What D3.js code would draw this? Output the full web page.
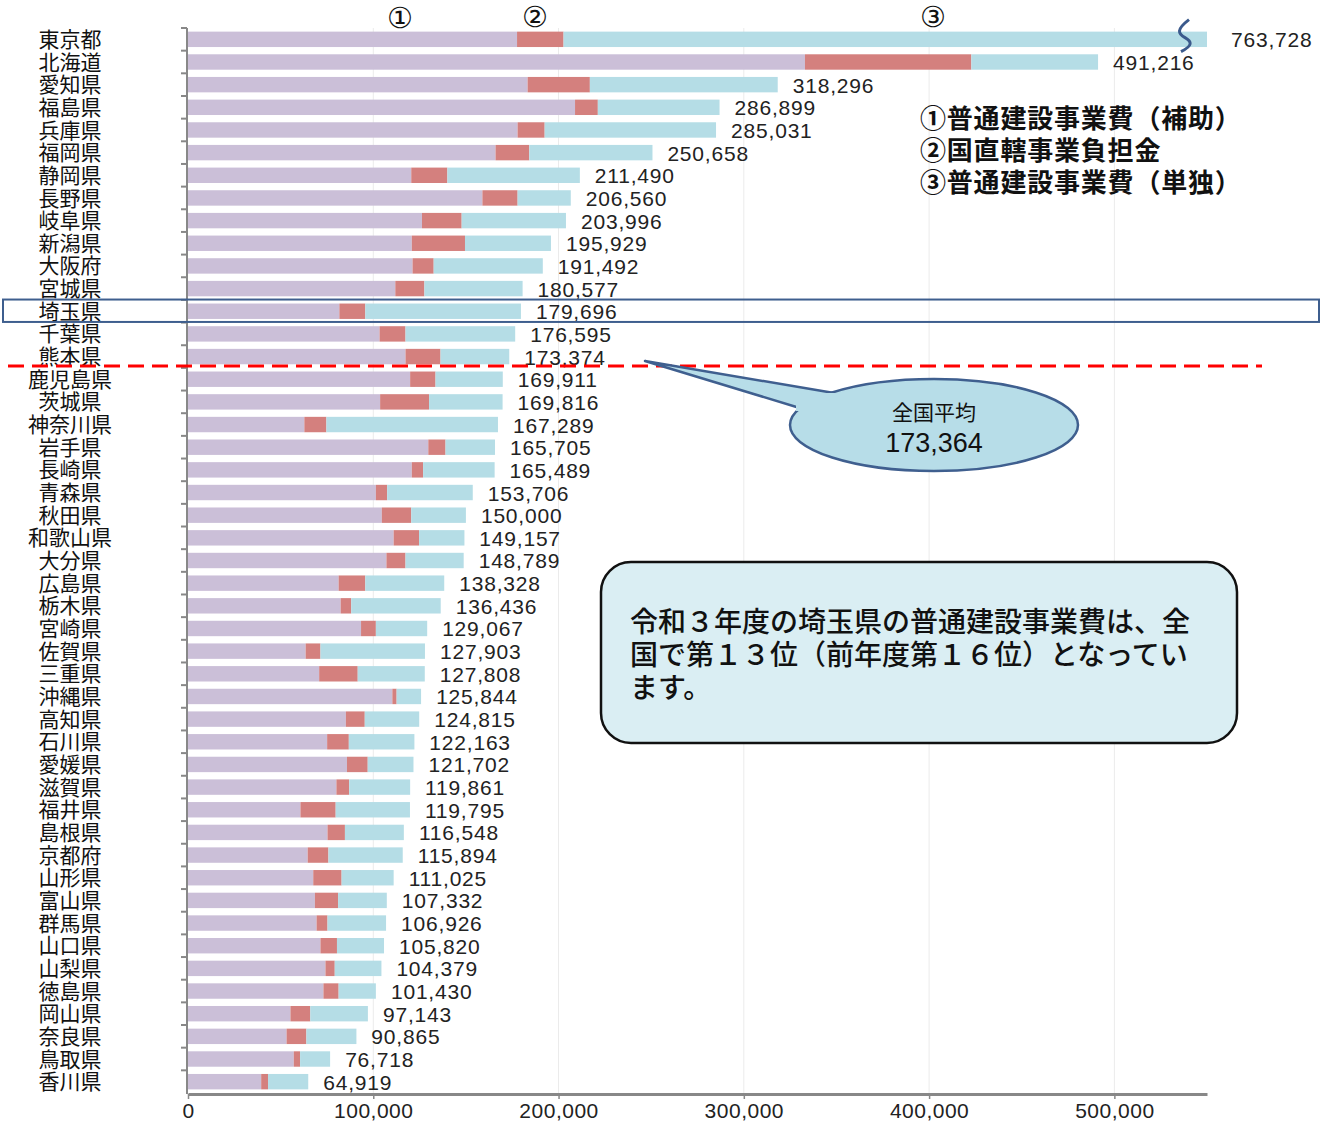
<!DOCTYPE html>
<html>
<head>
<meta charset="utf-8">
<script src="https://cdn.jsdelivr.net/npm/d3@7"></script>
<style>
  body { margin: 0; background: #fff; }
  .jp { font-family: 'Noto Sans CJK JP', sans-serif; }
  .num { font-family: 'Liberation Sans', Arial, sans-serif; }
</style>
</head>
<body>
<div class="chart"></div>
<script>
var prefs = ['東京都', '北海道', '愛知県', '福島県', '兵庫県', '福岡県', '静岡県', '長野県', '岐阜県', '新潟県',
  '大阪府', '宮城県', '埼玉県', '千葉県', '熊本県', '鹿児島県', '茨城県', '神奈川県', '岩手県', '長崎県',
  '青森県', '秋田県', '和歌山県', '大分県', '広島県', '栃木県', '宮崎県', '佐賀県', '三重県', '沖縄県',
  '高知県', '石川県', '愛媛県', '滋賀県', '福井県', '島根県', '京都府', '山形県', '富山県', '群馬県',
  '山口県', '山梨県', '徳島県', '岡山県', '奈良県', '鳥取県', '香川県']

// ① 普通建設事業費（補助）
var hojo = [177600, 333000, 183300, 208900, 177900, 166000, 120500, 158900, 126300, 120800,
  121200, 111900, 81700, 103400, 117400, 119900, 103700, 62800, 129700, 120800,
  101400, 104600, 111000, 107100, 81300, 82400, 93400, 63500, 70800, 110300,
  85200, 75100, 85800, 80100, 60700, 75300, 64600, 67600, 68500, 69400,
  71500, 74200, 73100, 55300, 53200, 57100, 39500]

// ② 国直轄事業負担金
var chokkatsu = [25100, 89800, 33600, 12300, 14600, 18200, 19500, 19000, 21400, 28700,
  11400, 15700, 14000, 14000, 18900, 13700, 26400, 11900, 9300, 6100,
  6100, 15900, 13700, 10300, 14400, 5700, 8000, 8000, 20800, 2300,
  10200, 11700, 11200, 6900, 19000, 9400, 11200, 15300, 12500, 5900,
  8900, 5000, 8200, 10700, 10700, 3400, 3700]

// ③ 普通建設事業費（単独）
var tandoku = [561000, 68400, 101400, 65700, 92500, 66500, 71500, 28700, 56300, 46400,
  58900, 53000, 84000, 59200, 37100, 36300, 39700, 92600, 26700, 38600,
  46200, 29500, 24500, 31400, 42600, 48300, 27700, 56400, 36200, 13200,
  29400, 35400, 24700, 32900, 40100, 31800, 40100, 28100, 26300, 31600,
  25400, 25200, 20100, 31100, 27000, 16200, 21700]

var totals = [763728, 491216, 318296, 286899, 285031, 250658, 211490, 206560, 203996, 195929,
  191492, 180577, 179696, 176595, 173374, 169911, 169816, 167289, 165705, 165489,
  153706, 150000, 149157, 148789, 138328, 136436, 129067, 127903, 127808, 125844,
  124815, 122163, 121702, 119861, 119795, 116548, 115894, 111025, 107332, 106926,
  105820, 104379, 101430, 97143, 90865, 76718, 64919]

var xTicks = [0, 100000, 200000, 300000, 400000, 500000]
var average = 173364
var seriesNames = ['①普通建設事業費（補助）', '②国直轄事業負担金', '③普通建設事業費（単独）']
var keys = ['hojo', 'chokkatsu', 'tandoku']
var colors = ['#cbbfd8', '#d4807e', '#b5dde6']

var rows = prefs.map(function (p, i) {
  return { name: p, hojo: hojo[i], chokkatsu: chokkatsu[i], tandoku: tandoku[i], total: totals[i] }
})

var svg = d3.select('.chart')
  .append('svg')
    .attr('width', 1333)
    .attr('height', 1122)

var x = d3.scaleLinear().domain([0, 550000]).range([188, 1207]).clamp(true)
var y = d3.scaleBand().domain(prefs).range([28, 1093]).paddingInner(0.32).paddingOuter(0.16)

// gridlines
svg.append('g')
  .selectAll('line')
  .data(xTicks.slice(1))
  .enter()
    .append('line')
    .attr('x1', d => x(d)).attr('x2', d => x(d))
    .attr('y1', 28).attr('y2', 1093)
    .style('stroke', '#ebebeb')
    .style('stroke-width', 1)

// stacked bars
var stacked = d3.stack().keys(keys)(rows)

svg.append('g')
  .selectAll('g')
  .data(stacked)
  .enter()
    .append('g')
    .style('fill', (d, i) => colors[i])
  .selectAll('rect')
  .data(d => d)
  .enter()
    .append('rect')
    .attr('x', d => x(d[0]))
    .attr('y', d => y(d.data.name))
    .attr('width', d => x(d[1]) - x(d[0]))
    .attr('height', y.bandwidth())

// y axis
var half = y.step() * y.paddingInner() / 2
svg.append('line')
  .attr('x1', 187).attr('x2', 187)
  .attr('y1', 28).attr('y2', 1094)
  .style('stroke', '#888').style('stroke-width', 2)

svg.append('g')
  .selectAll('line')
  .data(prefs)
  .enter()
    .append('line')
    .attr('x1', 181).attr('x2', 187)
    .attr('y1', d => y(d) - half).attr('y2', d => y(d) - half)
    .style('stroke', '#888').style('stroke-width', 2)

svg.append('g')
  .selectAll('text')
  .data(prefs)
  .enter()
    .append('text')
    .attr('class', 'jp')
    .attr('x', 70)
    .attr('y', d => y(d) + y.bandwidth() / 2)
    .attr('dy', '0.36em')
    .attr('text-anchor', 'middle')
    .style('font-size', '21px')
    .style('fill', '#111')
    .text(d => d)

// x axis
var xAxis = svg.append('g')
  .attr('transform', 'translate(0,1094)')
  .call(d3.axisBottom(x).tickValues(xTicks).tickFormat(d3.format(',')).tickSize(5).tickSizeOuter(0))

xAxis.select('.domain').style('stroke', '#888').style('stroke-width', 3)
xAxis.selectAll('.tick line').style('stroke', '#888').style('stroke-width', 1.5)
xAxis.selectAll('.tick text')
  .attr('class', 'num')
  .attr('y', 9)
  .style('font-size', '21px')
  .style('fill', '#222')
  .style('letter-spacing', '0.5px')

// total labels
svg.append('g')
  .selectAll('text')
  .data(rows)
  .enter()
    .append('text')
    .attr('class', 'num')
    .attr('x', d => x(d.total) + (d.total > x.domain()[1] ? 24 : 15))
    .attr('y', d => y(d.name) + y.bandwidth() / 2)
    .attr('dy', '0.38em')
    .style('font-size', '21px')
    .style('letter-spacing', '0.8px')
    .style('fill', '#222')
    .text(d => d3.format(',')(d.total))

// break mark on Tokyo
var ty = y(prefs[0])
svg.append('path')
  .attr('d', `M1189,${ty - 12} C1176,${ty - 2} 1178,${ty + 2} 1185,${ty + 6} S1193,${ty + 14} 1181,${ty + 20}`)
  .style('fill', 'none')
  .style('stroke', '#3b5a8c')
  .style('stroke-width', 3)

// circled series markers at top
var markers = [{ t: '①', x: 400, y: 18 }, { t: '②', x: 535, y: 17 }, { t: '③', x: 933, y: 17 }]
svg.append('g')
  .selectAll('text')
  .data(markers)
  .enter()
    .append('text')
    .attr('x', d => d.x).attr('y', d => d.y)
    .attr('dy', '0.35em')
    .attr('text-anchor', 'middle')
    .style('font-family', "'DejaVu Sans', sans-serif")
    .style('font-size', '29px')
    .style('fill', '#111')
    .text(d => d.t)

// legend text
svg.append('g')
  .selectAll('text')
  .data(seriesNames)
  .enter()
    .append('text')
    .attr('class', 'jp')
    .attr('x', 920)
    .attr('y', (d, i) => 128 + i * 32)
    .style('font-size', '26px')
    .style('font-weight', 'bold')
    .style('letter-spacing', '0.8px')
    .style('fill', '#111')
    .text(d => d)

// Saitama highlight
svg.append('rect')
  .attr('x', 3).attr('y', y('埼玉県') - 4)
  .attr('width', 1316).attr('height', y.bandwidth() + 7)
  .style('fill', 'none')
  .style('stroke', '#3e5e8e')
  .style('stroke-width', 2)

// average line
var avgY = (y('熊本県') + y('鹿児島県')) / 2 + y.bandwidth() / 2 - 2
svg.append('line')
  .attr('x1', 8).attr('x2', 1262)
  .attr('y1', avgY).attr('y2', avgY)
  .style('stroke', '#ff0000')
  .style('stroke-width', 3)
  .style('stroke-dasharray', '16,8')

// average callout
var callout = svg.append('g')
callout.append('path')
  .attr('d', 'M834,393 L645,361 L803,409')
  .style('fill', '#b7dde8')
  .style('stroke', '#3f5f8f')
  .style('stroke-width', 2.5)
  .style('stroke-linejoin', 'round')
callout.append('ellipse')
  .attr('cx', 934).attr('cy', 425).attr('rx', 144).attr('ry', 46)
  .style('fill', '#b7dde8')
  .style('stroke', '#3f5f8f')
  .style('stroke-width', 2.5)
callout.append('rect')
  .attr('x', 796).attr('y', 393).attr('width', 40).attr('height', 18)
  .style('fill', '#b7dde8')
callout.append('text')
  .attr('class', 'jp')
  .attr('x', 934).attr('y', 420)
  .attr('text-anchor', 'middle')
  .style('font-size', '21px')
  .style('fill', '#111')
  .text('全国平均')
callout.append('text')
  .attr('class', 'num')
  .attr('x', 934).attr('y', 452)
  .attr('text-anchor', 'middle')
  .style('font-size', '27px')
  .style('fill', '#111')
  .text(d3.format(',')(average))

// note box
var note = svg.append('g')
note.append('rect')
  .attr('x', 601).attr('y', 562).attr('width', 636).attr('height', 181)
  .attr('rx', 30).attr('ry', 30)
  .style('fill', '#daeef3')
  .style('stroke', '#111')
  .style('stroke-width', 2.5)
note.selectAll('text')
  .data(['令和３年度の埼玉県の普通建設事業費は、全', '国で第１３位（前年度第１６位）となってい', 'ます。'])
  .enter()
    .append('text')
    .attr('class', 'jp')
    .attr('x', 630)
    .attr('y', (d, i) => 632 + i * 33)
    .style('font-size', '28px')
    .style('font-weight', 500)
    .style('fill', '#111')
    .text(d => d)
</script>
</body>
</html>
